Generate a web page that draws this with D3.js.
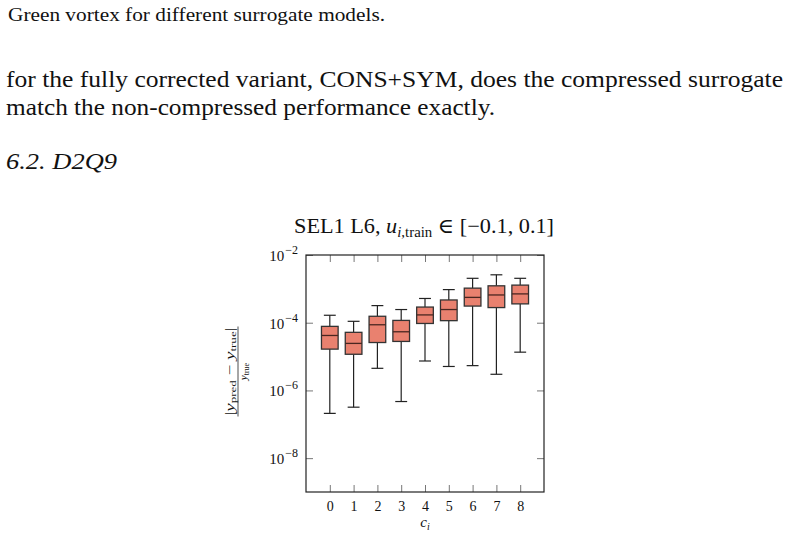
<!DOCTYPE html>
<html>
<head>
<meta charset="utf-8">
<script src="https://cdn.jsdelivr.net/npm/d3@7"></script>
<style>
  body { margin: 0; background: #fff; }
  svg { display: block; }
  svg text { font-family: 'Liberation Serif', 'DejaVu Serif', serif; fill: #111; }
</style>
</head>
<body>
<svg id="chart" width="788" height="539"></svg>
<script>
// categories c_i and box statistics
const categories = [0, 1, 2, 3, 4, 5, 6, 7, 8]
const whiskerLow = [2.1e-7, 3.2e-7, 4.5e-6, 4.7e-7, 7.4e-6, 5.1e-6, 5.4e-6, 3.0e-6, 1.35e-5]
const lowerQuartile = [1.66e-5, 1.17e-5, 2.6e-5, 2.8e-5, 9.5e-5, 1.15e-4, 3.1e-4, 2.8e-4, 3.6e-4]
const median = [4.2e-5, 2.45e-5, 8.7e-5, 5.4e-5, 1.7e-4, 2.45e-4, 5.6e-4, 6.6e-4, 7.1e-4]
const upperQuartile = [7.8e-5, 5.2e-5, 1.55e-4, 1.17e-4, 2.9e-4, 4.7e-4, 1.05e-3, 1.23e-3, 1.29e-3]
const whiskerHigh = [1.66e-4, 1.1e-4, 3.2e-4, 2.45e-4, 5.2e-4, 9.5e-4, 2.05e-3, 2.6e-3, 2.05e-3]
const yTickExponents = [-2, -4, -6, -8]

const serif = "'Liberation Serif', 'DejaVu Serif', serif"
const svg = d3.select('#chart')

// surrounding page text
const page = [
  { text: 'Green vortex for different surrogate models.', x: 8, y: 21, size: 19, len: 377 },
  { text: 'for the fully corrected variant, CONS+SYM, does the compressed surrogate', x: 6, y: 87, size: 24, len: 777 },
  { text: 'match the non-compressed performance exactly.', x: 6, y: 115, size: 24, len: 489 },
  { text: '6.2.  D2Q9', x: 6, y: 169, size: 24, len: 111, italic: true }
]
svg.selectAll('text.page').data(page).enter().append('text')
  .attr('class', 'page')
  .attr('x', d => d.x)
  .attr('y', d => d.y)
  .attr('font-family', serif)
  .attr('font-size', d => d.size)
  .attr('font-style', d => d.italic ? 'italic' : null)
  .attr('textLength', d => d.len)
  .attr('lengthAdjust', 'spacingAndGlyphs')
  .text(d => d.text)

const margin = { left: 306, top: 255, right: 244, bottom: 47 }
const width = 788 - margin.left - margin.right
const height = 539 - margin.top - margin.bottom

const g = svg.append('g').attr('transform', `translate(${margin.left}, ${margin.top})`)
  .attr('font-family', serif)

const x = d3.scaleLinear().domain([-1, 9]).range([0, width])
const y = d3.scaleLog().domain([1e-9, 1e-2]).range([height, 0])
const yTicks = yTickExponents.map(e => Math.pow(10, e))

const tickStyle = sel => {
  sel.attr('font-family', serif)
  sel.select('.domain').remove()
  sel.selectAll('.tick line').attr('stroke', '#777').attr('stroke-width', 1)
}

g.append('g').attr('transform', `translate(0, ${height})`)
  .call(d3.axisBottom(x).tickValues(categories).tickSize(-7).tickPadding(9).tickFormat(d3.format('d')))
  .call(tickStyle)
  .call(sel => sel.selectAll('text').attr('font-size', 14).attr('fill', '#111'))
g.append('g')
  .call(d3.axisTop(x).tickValues(categories).tickSize(-7).tickFormat(''))
  .call(tickStyle)
g.append('g')
  .call(d3.axisLeft(y).tickValues(yTicks).tickSize(-7).tickFormat(''))
  .call(tickStyle)
g.append('g').attr('transform', `translate(${width}, 0)`)
  .call(d3.axisRight(y).tickValues(yTicks).tickSize(-7).tickFormat(''))
  .call(tickStyle)

// y tick labels 10^e
const yLabels = g.selectAll('text.ylab').data(yTickExponents).enter().append('text')
  .attr('class', 'ylab')
  .attr('x', -8)
  .attr('y', d => y(Math.pow(10, d)) + 6)
  .attr('text-anchor', 'end')
  .attr('font-size', 15)
yLabels.append('tspan').text('10')
yLabels.append('tspan').attr('font-size', 12).attr('dx', 1).attr('dy', -7).text(d => '\u2212' + Math.abs(d))

// boxes
const boxW = x(0.35) - x(0)
const capW = x(0.25) - x(0)
const boxes = g.selectAll('g.box').data(categories).enter().append('g')
  .attr('class', 'box')
  .attr('transform', d => `translate(${x(d)}, 0)`)

boxes.append('line')
  .attr('y1', (d, i) => y(whiskerLow[i])).attr('y2', (d, i) => y(lowerQuartile[i]))
  .attr('stroke', '#222').attr('stroke-width', 1.2)
boxes.append('line')
  .attr('y1', (d, i) => y(upperQuartile[i])).attr('y2', (d, i) => y(whiskerHigh[i]))
  .attr('stroke', '#222').attr('stroke-width', 1.2)
boxes.append('line')
  .attr('x1', -capW).attr('x2', capW)
  .attr('y1', (d, i) => y(whiskerLow[i])).attr('y2', (d, i) => y(whiskerLow[i]))
  .attr('stroke', '#222').attr('stroke-width', 1.2)
boxes.append('line')
  .attr('x1', -capW).attr('x2', capW)
  .attr('y1', (d, i) => y(whiskerHigh[i])).attr('y2', (d, i) => y(whiskerHigh[i]))
  .attr('stroke', '#222').attr('stroke-width', 1.2)
boxes.append('rect')
  .attr('x', -boxW)
  .attr('width', 2 * boxW)
  .attr('y', (d, i) => y(upperQuartile[i]))
  .attr('height', (d, i) => y(lowerQuartile[i]) - y(upperQuartile[i]))
  .attr('fill', '#e9816f')
  .attr('stroke', '#333')
  .attr('stroke-width', 1.3)
boxes.append('line')
  .attr('x1', -boxW).attr('x2', boxW)
  .attr('y1', (d, i) => y(median[i])).attr('y2', (d, i) => y(median[i]))
  .attr('stroke', '#4a2620').attr('stroke-width', 1.3)

// frame
g.append('rect')
  .attr('width', width).attr('height', height)
  .attr('fill', 'none').attr('stroke', '#222').attr('stroke-width', 1.2)

// title
const title = svg.append('text')
  .attr('x', margin.left + width / 2 - 1)
  .attr('y', 233)
  .attr('text-anchor', 'middle')
  .attr('font-family', serif)
  .attr('font-size', 21)
  .attr('textLength', 260)
  .attr('lengthAdjust', 'spacingAndGlyphs')
title.append('tspan').text('SEL1 L6, ')
title.append('tspan').attr('font-style', 'italic').text('u')
title.append('tspan').attr('font-size', 14).attr('dy', 4).attr('font-style', 'italic').text('i')
title.append('tspan').attr('font-size', 14).text(',train')
title.append('tspan').attr('dy', -4).text(' \u2208 [\u22120.1, 0.1]')

// x label
svg.append('text')
  .attr('x', margin.left + x(4))
  .attr('y', 527)
  .attr('text-anchor', 'middle')
  .attr('font-family', serif)
  .attr('font-size', 15)
  .attr('font-style', 'italic')
  .call(t => {
    t.append('tspan').text('c')
    t.append('tspan').attr('font-size', 10).attr('dy', 3).text('i')
  })

// y label: |y_pred - y_true| / y_true, rotated
const yl = svg.append('g').attr('transform', `translate(238, ${margin.top + height / 2 - 2}) rotate(-90)`)
  .attr('font-family', serif)
const num = yl.append('text').attr('y', -4).attr('text-anchor', 'middle').attr('font-size', 13)
  .attr('textLength', 88).attr('lengthAdjust', 'spacingAndGlyphs')
num.append('tspan').text('|')
num.append('tspan').attr('font-style', 'italic').text('y')
num.append('tspan').attr('font-size', 9).attr('dy', 2).text('pred')
num.append('tspan').attr('dy', -2).text(' \u2212 ')
num.append('tspan').attr('font-style', 'italic').text('y')
num.append('tspan').attr('font-size', 9).attr('dy', 2).text('true')
num.append('tspan').attr('dy', -2).text('|')
yl.append('line').attr('x1', -45).attr('x2', 45).attr('y1', 0).attr('y2', 0)
  .attr('stroke', '#222').attr('stroke-width', 0.8)
const den = yl.append('text').attr('y', 9).attr('text-anchor', 'middle').attr('font-size', 11)
den.append('tspan').attr('font-style', 'italic').text('y')
den.append('tspan').attr('font-size', 8).attr('dy', 1.5).text('true')
</script>
</body>
</html>
